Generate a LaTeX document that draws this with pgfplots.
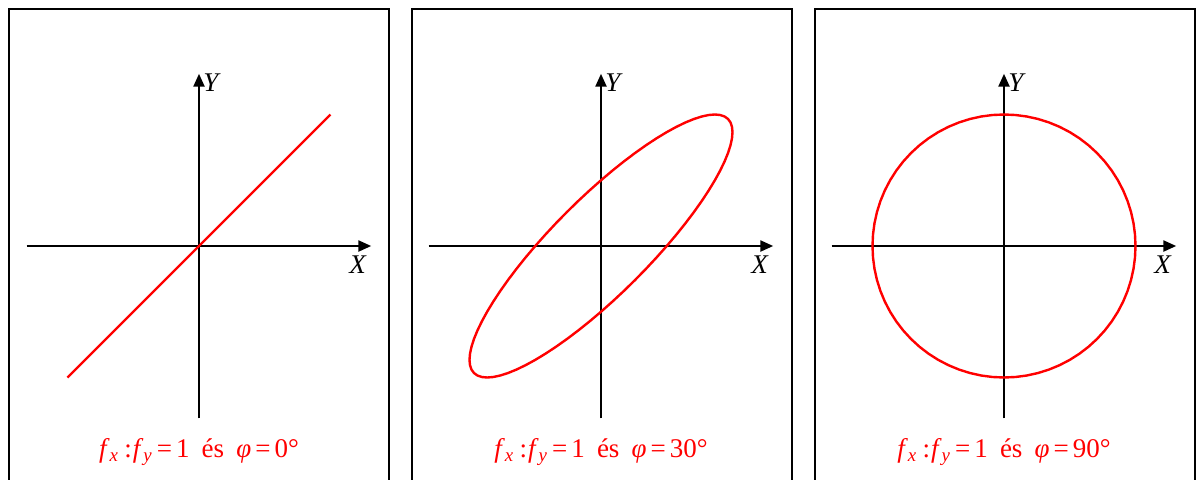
\documentclass[border=0pt]{standalone}
\usepackage{pgfplots}
\pgfplotsset{compat=1.18}
\usetikzlibrary{arrows.meta}
\usepackage{fontspec}
\setmainfont{Liberation Serif}

\definecolor{curve}{RGB}{255,0,0}
\newcommand{\labelfont}{\fontsize{13.5}{16}\selectfont}
\newcommand{\ratiotext}[1]{%
  \textit{f}\textsubscript{\textit{x}}\hspace{0.2em}:\hspace{0.03em}\textit{f}\textsubscript{\textit{y}}\hspace{0.15em}=\hspace{0.15em}1\hspace{0.45em}és\hspace{0.45em}\textit{φ}\hspace{0.15em}=\hspace{0.15em}#1°}

\pgfplotsset{
  lissajous/.style={
    x=65.75pt, y=65.75pt,
    anchor=center,
    axis lines=middle,
    xmin=-1.31, xmax=1.31, ymin=-1.31, ymax=1.31,
    xtick=\empty, ytick=\empty,
    axis line style={line width=1.2pt, -{Triangle[length=6.5pt,width=5.5pt]}},
    xlabel={\textit{X}}, ylabel={\textit{Y}},
    every axis x label/.style={at={(axis cs:1.21,-0.14)}, anchor=center, font=\labelfont},
    every axis y label/.style={at={(axis cs:0.10,1.24)}, anchor=center, font=\labelfont},
    clip=false,
  },
  curve/.style={color=curve, line width=1.2pt, line join=round, no marks},
}

\begin{document}
\begin{tikzpicture}
\useasboundingbox (0,0) rectangle (598pt,239.5pt);
\clip (0,0) rectangle (598pt,239.5pt);

% panel frames, open below the picture edge
\draw[line width=1pt] (4.5pt,-5pt) rectangle (194.5pt,235pt);
\draw[line width=1pt] (206pt,-5pt) rectangle (396pt,235pt);
\draw[line width=1pt] (407.5pt,-5pt) rectangle (597.5pt,235pt);

% phase 0 degrees
\begin{axis}[lissajous, at={(99.5pt,116.5pt)}]
\addplot[curve] coordinates {(-1,-1) (1,1)};
\node[anchor=base, text=curve, font=\labelfont] at (axis cs:0,-1.605) {\ratiotext{0}};
\end{axis}

% phase 30 degrees
\begin{axis}[lissajous, at={(300.5pt,116.5pt)}]
\addplot[curve] coordinates {
(0,0.5) (0.08716,0.57358) (0.17365,0.64279) (0.25882,0.70711) (0.34202,0.76604)
(0.42262,0.81915) (0.5,0.86603) (0.57358,0.90631) (0.64279,0.93969) (0.70711,0.96593)
(0.76604,0.98481) (0.81915,0.99619) (0.86603,1) (0.90631,0.99619) (0.93969,0.98481)
(0.96593,0.96593) (0.98481,0.93969) (0.99619,0.90631) (1,0.86603) (0.99619,0.81915)
(0.98481,0.76604) (0.96593,0.70711) (0.93969,0.64279) (0.90631,0.57358) (0.86603,0.5)
(0.81915,0.42262) (0.76604,0.34202) (0.70711,0.25882) (0.64279,0.17365) (0.57358,0.08716)
(0.5,0) (0.42262,-0.08716) (0.34202,-0.17365) (0.25882,-0.25882) (0.17365,-0.34202)
(0.08716,-0.42262) (0,-0.5)
(-0.08716,-0.57358) (-0.17365,-0.64279) (-0.25882,-0.70711) (-0.34202,-0.76604)
(-0.42262,-0.81915) (-0.5,-0.86603) (-0.57358,-0.90631) (-0.64279,-0.93969) (-0.70711,-0.96593)
(-0.76604,-0.98481) (-0.81915,-0.99619) (-0.86603,-1) (-0.90631,-0.99619) (-0.93969,-0.98481)
(-0.96593,-0.96593) (-0.98481,-0.93969) (-0.99619,-0.90631) (-1,-0.86603) (-0.99619,-0.81915)
(-0.98481,-0.76604) (-0.96593,-0.70711) (-0.93969,-0.64279) (-0.90631,-0.57358) (-0.86603,-0.5)
(-0.81915,-0.42262) (-0.76604,-0.34202) (-0.70711,-0.25882) (-0.64279,-0.17365) (-0.57358,-0.08716)
(-0.5,0) (-0.42262,0.08716) (-0.34202,0.17365) (-0.25882,0.25882) (-0.17365,0.34202)
(-0.08716,0.42262) (0,0.5)
};
\node[anchor=base, text=curve, font=\labelfont] at (axis cs:0,-1.605) {\ratiotext{30}};
\end{axis}

% phase 90 degrees
\begin{axis}[lissajous, at={(502pt,116.5pt)}]
\addplot[curve] coordinates {
(0,1) (0.08716,0.99619) (0.17365,0.98481) (0.25882,0.96593) (0.34202,0.93969)
(0.42262,0.90631) (0.5,0.86603) (0.57358,0.81915) (0.64279,0.76604) (0.70711,0.70711)
(0.76604,0.64279) (0.81915,0.57358) (0.86603,0.5) (0.90631,0.42262) (0.93969,0.34202)
(0.96593,0.25882) (0.98481,0.17365) (0.99619,0.08716) (1,0) (0.99619,-0.08716)
(0.98481,-0.17365) (0.96593,-0.25882) (0.93969,-0.34202) (0.90631,-0.42262) (0.86603,-0.5)
(0.81915,-0.57358) (0.76604,-0.64279) (0.70711,-0.70711) (0.64279,-0.76604) (0.57358,-0.81915)
(0.5,-0.86603) (0.42262,-0.90631) (0.34202,-0.93969) (0.25882,-0.96593) (0.17365,-0.98481)
(0.08716,-0.99619) (0,-1)
(-0.08716,-0.99619) (-0.17365,-0.98481) (-0.25882,-0.96593) (-0.34202,-0.93969)
(-0.42262,-0.90631) (-0.5,-0.86603) (-0.57358,-0.81915) (-0.64279,-0.76604) (-0.70711,-0.70711)
(-0.76604,-0.64279) (-0.81915,-0.57358) (-0.86603,-0.5) (-0.90631,-0.42262) (-0.93969,-0.34202)
(-0.96593,-0.25882) (-0.98481,-0.17365) (-0.99619,-0.08716) (-1,0) (-0.99619,0.08716)
(-0.98481,0.17365) (-0.96593,0.25882) (-0.93969,0.34202) (-0.90631,0.42262) (-0.86603,0.5)
(-0.81915,0.57358) (-0.76604,0.64279) (-0.70711,0.70711) (-0.64279,0.76604) (-0.57358,0.81915)
(-0.5,0.86603) (-0.42262,0.90631) (-0.34202,0.93969) (-0.25882,0.96593) (-0.17365,0.98481)
(-0.08716,0.99619) (0,1)
};
\node[anchor=base, text=curve, font=\labelfont] at (axis cs:0,-1.605) {\ratiotext{90}};
\end{axis}
\end{tikzpicture}
\end{document}
